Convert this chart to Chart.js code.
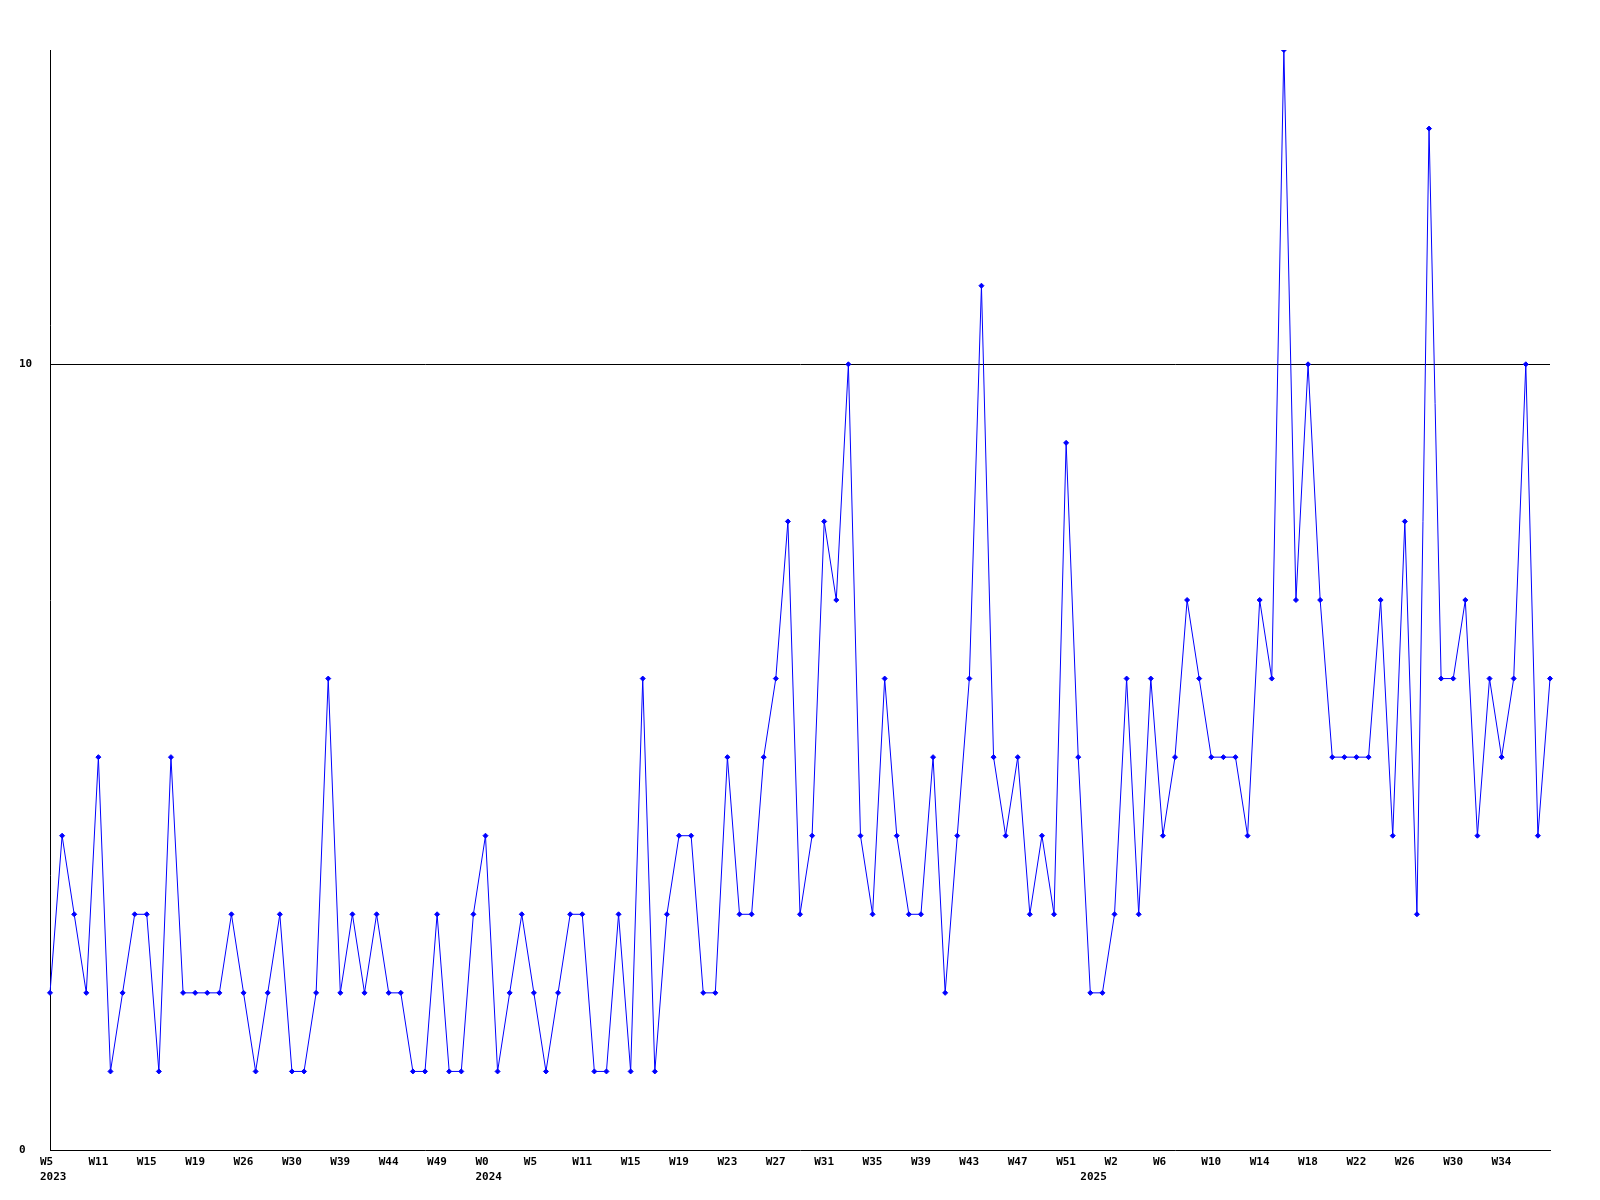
<!DOCTYPE html>
<html>
<head>
    <meta charset="utf-8" />
    <title>Weekly count</title>
    <script src="https://cdn.jsdelivr.net/npm/chart.js@4.4.1/dist/chart.umd.min.js"></script>
    <style>
        body { margin: 0; background: #fff; }
        canvas { display: block; }
    </style>
</head>
<body>

<canvas id="weekly" width="1600" height="1200"></canvas>

<script>
    // one value per week with data (125 points)
    var weekValues = [
        2, 4, 3, 2, 5, 1, 2, 3, 3, 1,
        5, 2, 2, 2, 2, 3, 2, 1, 2, 3,
        1, 1, 2, 6, 2, 3, 2, 3, 2, 2,
        1, 1, 3, 1, 1, 3, 4, 1, 2, 3,
        2, 1, 2, 3, 3, 1, 1, 3, 1, 6,
        1, 3, 4, 4, 2, 2, 5, 3, 3, 5,
        6, 8, 3, 4, 8, 7, 10, 4, 3, 6,
        4, 3, 3, 5, 2, 4, 6, 11, 5, 4,
        5, 3, 4, 3, 9, 5, 2, 2, 3, 6,
        3, 6, 4, 5, 7, 6, 5, 5, 5, 4,
        7, 6, 14, 7, 10, 7, 5, 5, 5, 5,
        7, 4, 8, 3, 13, 6, 6, 7, 4, 6,
        5, 6, 10, 4, 6
    ];

    // the week labels shown under every 4th point
    var weekTicks = ["W5", "W11", "W15", "W19", "W26", "W30", "W39", "W44", "W49",
                     "W0", "W5", "W11", "W15", "W19", "W23", "W27", "W31", "W35", "W39",
                     "W43", "W47", "W51", "W2", "W6", "W10", "W14", "W18", "W22", "W26",
                     "W30", "W34"];
    // year written on a second line, keyed by point index
    var yearTicks = { 0: "2023", 36: "2024", 86: "2025" };
    var tickStep = 4;
    var yTicks = [0, 10];

    var categories = [];
    for (var i = 0; i < weekValues.length; i++) {
        var w = "";
        if (i % tickStep === 0 && weekTicks[i / tickStep] !== undefined) {
            w = weekTicks[i / tickStep];
        }
        categories.push(yearTicks[i] ? [w, yearTicks[i]] : w);
    }

    var tickFont = { family: '"DejaVu Sans Mono", monospace', size: 11, weight: 'bold', lineHeight: '15px' };

    var ctx = document.getElementById("weekly").getContext("2d");
    var chart = new Chart(ctx, {
        type: "line",
        data: {
            labels: categories,
            datasets: [{
                data: weekValues,
                borderColor: '#0000ff',
                backgroundColor: '#0000ff',
                borderWidth: 1,
                tension: 0,
                fill: false,
                pointStyle: 'rectRot',
                pointRadius: 2.5,
                pointBorderWidth: 1,
                pointBackgroundColor: '#0000ff',
                pointBorderColor: '#0000ff'
            }]
        },
        options: {
            responsive: false,
            animation: false,
            layout: { padding: { left: 19, top: 50, right: 50, bottom: 0 } },
            plugins: {
                legend: { display: false },
                tooltip: { enabled: false }
            },
            scales: {
                x: {
                    offset: false,
                    grid: { color: 'rgba(0,0,0,0)', drawTicks: false },
                    border: { display: true, color: '#000', width: 1 },
                    ticks: {
                        autoSkip: false,
                        maxRotation: 0,
                        minRotation: 0,
                        align: 'start',
                        labelOffset: -10,
                        padding: 5,
                        color: '#000',
                        font: tickFont
                    },
                    afterFit: function (scale) { scale.height = 50; }
                },
                y: {
                    min: 0,
                    max: 14,
                    afterBuildTicks: function (scale) {
                        scale.ticks = yTicks.map(function (v) { return { value: v }; });
                    },
                    grid: {
                        drawTicks: false,
                        color: function (c) { return c.tick && c.tick.value === 10 ? '#000' : 'rgba(0,0,0,0)'; },
                        lineWidth: 1
                    },
                    border: { display: true, color: '#000', width: 1 },
                    ticks: {
                        crossAlign: 'far',
                        padding: 4,
                        color: '#000',
                        font: tickFont
                    },
                    afterFit: function (scale) { scale.width = 31; }
                }
            }
        }
    });
</script>

</body>
</html>
